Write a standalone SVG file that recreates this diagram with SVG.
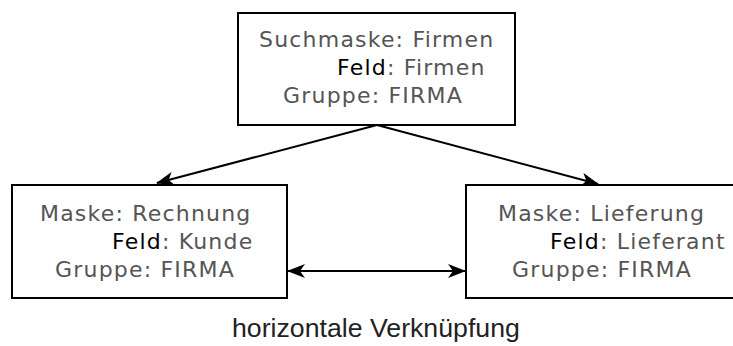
<svg xmlns="http://www.w3.org/2000/svg" width="733" height="346" viewBox="0 0 733 346">
<style>
.box{fill:#fff;stroke:#000;stroke-width:2}
.t{font-family:"DejaVu Sans","Noto Sans",sans-serif;font-size:22px;letter-spacing:1.2px;fill:#555}
.k{fill:#000}
.edge{stroke:#000;stroke-width:2;fill:none}
.cap{font-family:"Liberation Sans",Arial,sans-serif;font-size:26.7px;fill:#222}
</style>
<defs>
<marker id="ah" viewBox="0 0 18 14" refX="17" refY="7" markerWidth="18" markerHeight="14" markerUnits="userSpaceOnUse" orient="auto-start-reverse">
<path d="M0,0 L18,7 L0,14 L5,7 z" fill="#000"/>
</marker>
</defs>
<g id="connectors">
<line class="edge" x1="377" y1="125" x2="157" y2="183" marker-end="url(#ah)"/>
<line class="edge" x1="377" y1="125" x2="598" y2="184" marker-end="url(#ah)"/>
<line class="edge" x1="288" y1="271" x2="465" y2="271" marker-start="url(#ah)" marker-end="url(#ah)"/>
</g>
<g id="suchmaske">
<rect class="box" x="238" y="13" width="277" height="112"/>
<text class="t" x="259" y="47">Suchmaske: Firmen</text>
<text class="t" x="337" y="75"><tspan class="k">Feld</tspan>: Firmen</text>
<text class="t" x="283" y="103">Gruppe: FIRMA</text>
</g>
<g id="rechnung">
<rect class="box" x="12" y="185" width="275" height="113"/>
<text class="t" x="40" y="221">Maske: Rechnung</text>
<text class="t" x="112" y="249"><tspan class="k">Feld</tspan>: Kunde</text>
<text class="t" x="55" y="277">Gruppe: FIRMA</text>
</g>
<g id="lieferung">
<rect class="box" x="466" y="185" width="280" height="113"/>
<text class="t" x="498" y="221">Maske: Lieferung</text>
<text class="t" x="550" y="249"><tspan class="k">Feld</tspan>: Lieferant</text>
<text class="t" x="512" y="277">Gruppe: FIRMA</text>
</g>
<text class="cap" x="232" y="337">horizontale Verknüpfung</text>
</svg>
